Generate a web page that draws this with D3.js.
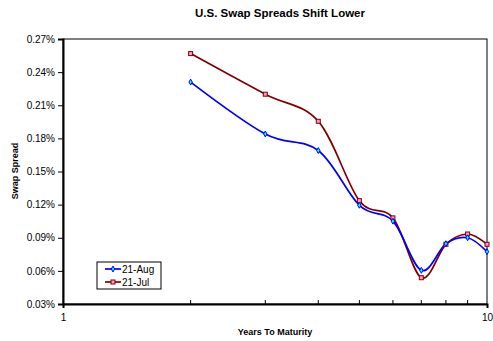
<!DOCTYPE html>
<html><head><meta charset="utf-8">
<script src="https://cdn.jsdelivr.net/npm/d3@7"></script>
<style>body{margin:0;background:#fff}svg{display:block;font-family:"Liberation Sans",Arial,sans-serif}</style>
</head><body><svg id="c" width="493" height="341"></svg>
<script>
const maturities = [2,3,4,5,6,7,8,9,10];
const aug21 = [0.231,0.184,0.169,0.1194,0.105,0.0605,0.0846,0.090,0.0774];
const jul21 = [0.2568,0.220,0.1955,0.1236,0.108,0.0538,0.0841,0.0934,0.0841];
const yTicks = [0.03,0.06,0.09,0.12,0.15,0.18,0.21,0.24,0.27];
const xMajor = [1,10];
const xMinor = [2,3,4,5,6,7,8,9];
const seriesNames = ["21-Aug","21-Jul"];

const svg = d3.select("#c");
const L=63,R=487,T=39,B=304;
const x = d3.scaleLog().domain([1,10]).range([L,R]);
const y = d3.scaleLinear().domain([0.03,0.27]).range([B,T]);

svg.append("text").attr("x",280).attr("y",17).attr("text-anchor","middle")
  .attr("font-size",11.5).attr("font-weight","bold").text("U.S. Swap Spreads Shift Lower");

svg.append("rect").attr("x",L).attr("y",T).attr("width",R-L).attr("height",B-T)
  .attr("fill","none").attr("stroke","#000").attr("stroke-width",1);

const ya = svg.append("g").attr("transform",`translate(${L},0)`)
  .call(d3.axisLeft(y).tickValues(yTicks).tickSize(5).tickPadding(3).tickFormat(d=>d.toFixed(2)+"%"));
ya.select(".domain").attr("stroke-width",2);
ya.selectAll("text").attr("font-size",10).attr("font-family","Liberation Sans, Arial").attr("fill","#000");

const xa = svg.append("g").attr("transform",`translate(0,${B})`)
  .call(d3.axisBottom(x).tickValues(xMajor).tickSize(4).tickPadding(6).tickFormat(d3.format("d")));
xa.select(".domain").attr("stroke-width",2);
xa.selectAll("text").attr("font-size",10).attr("font-family","Liberation Sans, Arial").attr("fill","#000");
svg.append("g").selectAll("line").data(xMinor).join("line")
  .attr("x1",d=>x(d)).attr("x2",d=>x(d)).attr("y1",B).attr("y2",B-4).attr("stroke","#000");

svg.append("text").attr("x",275).attr("y",335).attr("text-anchor","middle")
  .attr("font-size",9).attr("font-weight","bold").text("Years To Maturity");
svg.append("text").attr("transform","translate(18,171) rotate(-90)").attr("text-anchor","middle")
  .attr("font-size",9).attr("font-weight","bold").text("Swap Spread");

const line = d3.line().x(d=>x(d[0])).y(d=>y(d[1])).curve(d3.curveCatmullRom.alpha(0));
const jul = maturities.map((m,i)=>[m,jul21[i]]);
const aug = maturities.map((m,i)=>[m,aug21[i]]);

svg.append("path").datum(jul).attr("d",line).attr("fill","none").attr("stroke","#800000").attr("stroke-width",1.7);
svg.append("path").datum(aug).attr("d",line).attr("fill","none").attr("stroke","#0000ff").attr("stroke-width",1.7);

svg.append("g").selectAll("rect").data(jul).join("rect")
  .attr("x",d=>x(d[0])-2).attr("y",d=>y(d[1])-2).attr("width",4).attr("height",4)
  .attr("fill","#ff99cc").attr("stroke","#800000").attr("stroke-width",1);
const dia = d3.symbol().type(d3.symbolDiamond).size(10);
svg.append("g").selectAll("path").data(aug).join("path")
  .attr("transform",d=>`translate(${x(d[0])},${y(d[1])})`).attr("d",dia)
  .attr("fill","#00ffff").attr("stroke","#0000ff").attr("stroke-width",1);

const lg = svg.append("g");
lg.append("rect").attr("x",97).attr("y",262).attr("width",64).attr("height",27)
  .attr("fill","#fff").attr("stroke","#000").attr("stroke-width",1);
const cols=[["#0000ff","#00ffff"],["#800000","#ff99cc"]];
seriesNames.forEach((n,i)=>{
  const yy=269+i*13;
  lg.append("line").attr("x1",105).attr("x2",121).attr("y1",yy).attr("y2",yy).attr("stroke",cols[i][0]).attr("stroke-width",1.7);
  if(i===0) lg.append("path").attr("transform",`translate(113,${yy})`).attr("d",dia).attr("fill",cols[i][1]).attr("stroke",cols[i][0]);
  else lg.append("rect").attr("x",111).attr("y",yy-2).attr("width",4).attr("height",4).attr("fill",cols[i][1]).attr("stroke",cols[i][0]);
  lg.append("text").attr("x",122).attr("y",yy+3.5).attr("font-size",10).text(n);
});
</script></body></html>
